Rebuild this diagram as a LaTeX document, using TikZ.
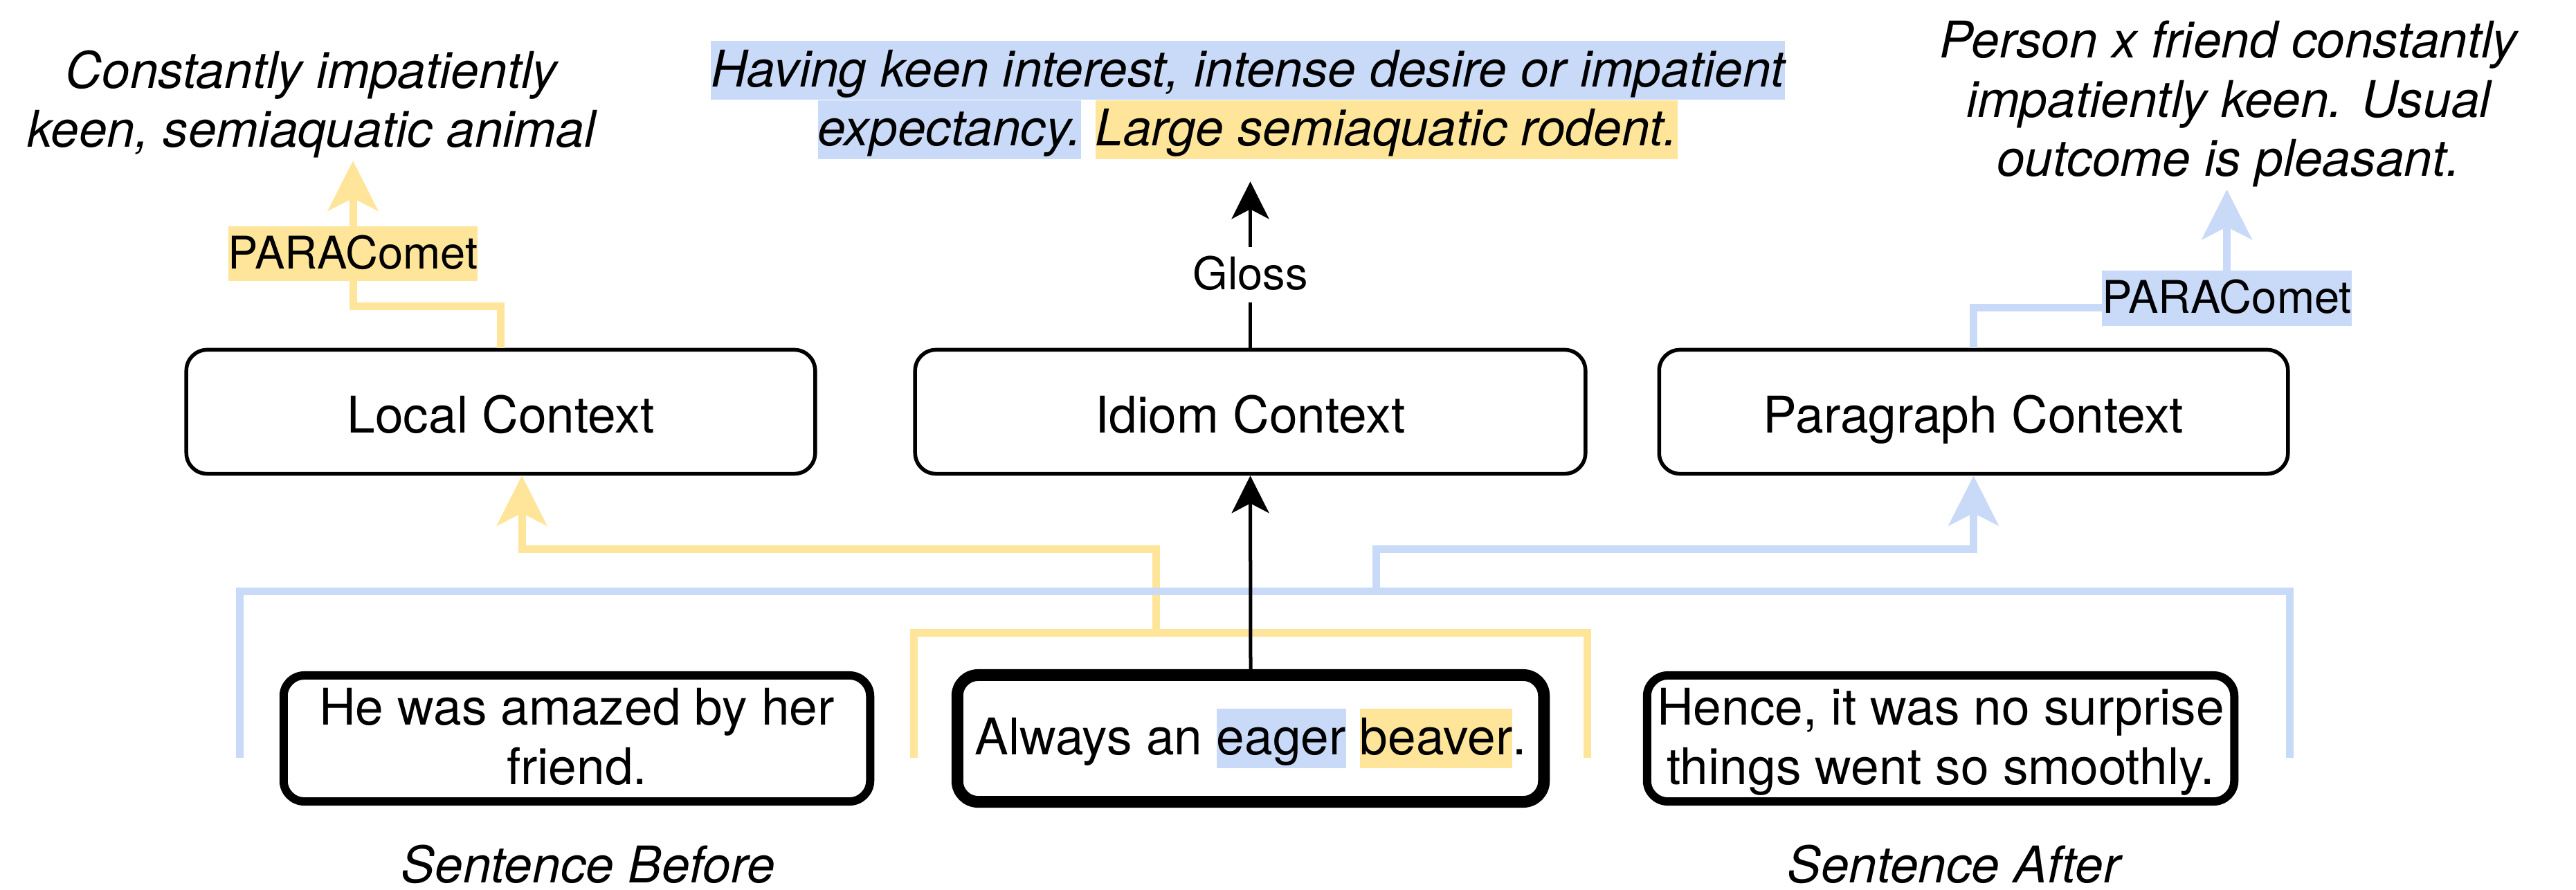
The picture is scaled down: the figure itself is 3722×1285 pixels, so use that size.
\documentclass[tikz,border=0pt]{standalone}
\usepackage{fontspec}
\setmainfont{TeX Gyre Heros}
\usetikzlibrary{arrows.meta}
\definecolor{hlb}{HTML}{C9DAF8}
\definecolor{hly}{HTML}{FFE599}
\setlength{\fboxsep}{0pt}
\lineskiplimit=-5pt
\newcommand\bstrut{\rule[-0.19cm]{0pt}{0.85cm}}
\newcommand\sstrut{\rule[-0.18cm]{0pt}{0.79cm}}
\newcommand\bigfnt{\fontsize{20.77pt}{24.19pt}\selectfont}
\newcommand\lblfnt{\fontsize{18.49pt}{22.48pt}\selectfont}
\begin{document}
\begin{tikzpicture}[x=0.01cm, y=-0.01cm,
  ctx/.style={draw, line width=0.055cm, rounded corners=0.3cm, minimum height=1.79cm, inner sep=0pt, font=\bigfnt, align=center, text height=0.6cm, text depth=0cm},
  sent/.style={draw, rounded corners=0.3cm, minimum height=1.82cm, inner sep=0pt, font=\bigfnt, align=center},
  txt/.style={inner sep=0pt, font=\bigfnt\itshape, align=center},
  lbl/.style={inner sep=0pt, font=\lblfnt},
  yline/.style={draw=hly, line width=0.11cm},
  bline/.style={draw=hlb, line width=0.11cm},
  ytip/.style={-{Stealth[length=0.72cm, width=0.72cm, inset=0.18cm]}},
  kline/.style={draw=black, line width=0.05cm, -{Stealth[length=0.54cm, width=0.54cm, inset=0.14cm]}},
]
\useasboundingbox (0,0) rectangle (3722,1285);

% context boxes
\node[ctx, minimum width=9.08cm] (local) at (723.5,595) {Local Context};
\node[ctx, minimum width=9.68cm] (idiom) at (1806.5,595) {Idiom Context};
\node[ctx, minimum width=9.08cm] (para) at (2851.5,595) {Paragraph Context};

% sentence boxes
\node[sent, line width=0.12cm, minimum width=8.47cm] (before) at (833.5,1067) {\bstrut He was amazed by her\\\bstrut friend.};
\node[sent, line width=0.17cm, minimum width=8.47cm, minimum height=1.83cm] (mid) at (1807,1067) {\bstrut Always an \colorbox{hlb}{\bstrut eager} \colorbox{hly}{\bstrut beaver}.};
\node[sent, line width=0.12cm, minimum width=8.48cm] (after) at (2804,1067) {\bstrut Hence, it was no surprise\\\bstrut things went so smoothly.};

% top texts
\node[txt] (ltxt) at (450,146.5) {\bstrut Constantly impatiently\\\bstrut keen, semiaquatic animal};
\node[txt] (gtxt) at (1803,144.5) {\colorbox{hlb}{\bstrut Having keen interest, intense desire or impatient}\\\colorbox{hlb}{\bstrut expectancy.} \colorbox{hly}{\bstrut Large semiaquatic rodent.}};
\node[txt] (rtxt) at (3220,145.5) {\bstrut Person x friend constantly\\\bstrut impatiently keen. Usual\\\bstrut outcome is pleasant.};

% bottom labels
\node[txt] (sb) at (850,1251.5) {\bstrut Sentence Before};
\node[txt] (sa) at (2823,1251.5) {\bstrut Sentence After};

% yellow lower connector
\coordinate (yl) at (1320,1095);
\coordinate (yr) at (2293,1095);
\coordinate (yj) at (1670,914);
\draw[yline] (yl) |- (yj) -| (yr);
\draw[yline, ytip] (yj) -- ++(0,-121) -| ([xshift=0.305cm]local.south);

% blue lower connector
\coordinate (bl) at (346,1095);
\coordinate (br) at (3308,1095);
\coordinate (bj) at (1988,854);
\draw[bline] (bl) |- (bj) -| (br);
\draw[bline, ytip] (bj) -- ++(0,-61) -| (para.south);

% black connectors
\draw[kline] (mid.north) -- (idiom.south);
\draw[kline, shorten >=0.32cm] (idiom.north) -- (idiom.north |- gtxt.south);
\node[lbl, fill=white] (gloss) at (1806.5,397) {\sstrut Gloss};

% top yellow connector
\coordinate (yc) at (510,442);
\draw[yline, ytip] (local.north) |- (yc) -- (yc |- ltxt.south);
\node[lbl, fill=hly] (pl) at (510,366.5) {\sstrut PARAComet};

% top blue connector
\coordinate (bc) at (3217.5,444);
\draw[bline, ytip] (para.north) |- (bc) -- (bc |- rtxt.south);
\node[lbl, fill=hlb] (pr) at (3217.5,431) {\sstrut PARAComet};
\end{tikzpicture}
\end{document}
